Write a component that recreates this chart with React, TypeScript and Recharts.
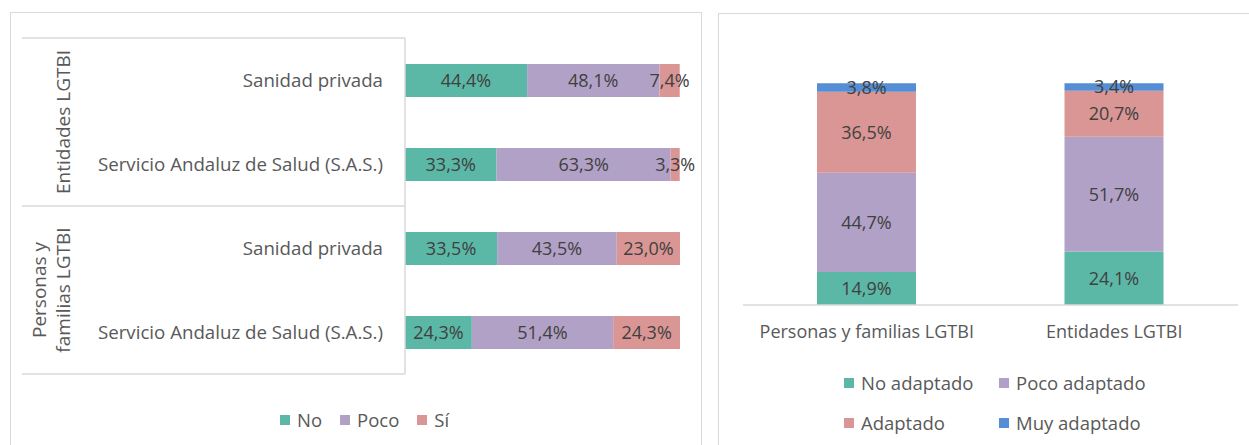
import React from "react";
import { BarChart, Bar, XAxis, YAxis, LabelList } from "recharts";

// ---------- Data ----------
const leftCategories = [
  "Sanidad privada",
  "Servicio Andaluz de Salud (S.A.S.)",
  "Sanidad privada",
  "Servicio Andaluz de Salud (S.A.S.)",
];
const leftGroups = [
  "Entidades LGTBI",
  "Entidades LGTBI",
  "Personas y familias LGTBI",
  "Personas y familias LGTBI",
];
const leftGroupLabelLines: Record<string, string[]> = {
  "Entidades LGTBI": ["Entidades LGTBI"],
  "Personas y familias LGTBI": ["Personas y", "familias LGTBI"],
};
const leftNo = [44.4, 33.3, 33.5, 24.3];
const leftPoco = [48.1, 63.3, 43.5, 51.4];
const leftSi = [7.4, 3.3, 23.0, 24.3];
const leftSeriesNames = ["No", "Poco", "Sí"];

const rightCategories = ["Personas y familias LGTBI", "Entidades LGTBI"];
const rightNoAdaptado = [14.9, 24.1];
const rightPocoAdaptado = [44.7, 51.7];
const rightAdaptado = [36.5, 20.7];
const rightMuyAdaptado = [3.8, 3.4];
const rightSeriesNames = ["No adaptado", "Poco adaptado", "Adaptado", "Muy adaptado"];

// ---------- Styles ----------
const TEAL = "#5BB8A6";
const PURPLE = "#B2A1C7";
const PINK = "#D99694";
const BLUE = "#558ED5";
const GRID = "#D9D9D9";
const AXIS_TEXT = "#595959";
const LABEL_TEXT = "#404040";
const FONT = "'Open Sans', 'Noto Sans', sans-serif";

const leftColors = [TEAL, PURPLE, PINK];
const rightColors = [TEAL, PURPLE, PINK, BLUE];

const fmt = (v: any) => `${Number(v).toFixed(1).replace(".", ",")}%`;

const leftData = leftCategories.map((c, i) => ({
  key: `${leftGroups[i]}|${c}`,
  name: c,
  group: leftGroups[i],
  s0: leftNo[i],
  s1: leftPoco[i],
  s2: leftSi[i],
}));

const rightData = rightCategories.map((c, i) => ({
  name: c,
  s0: rightNoAdaptado[i],
  s1: rightPocoAdaptado[i],
  s2: rightAdaptado[i],
  s3: rightMuyAdaptado[i],
}));

// Left chart layout
const L_W = 703;
const L_H = 445;
const L_MARGIN = { top: 38, right: 23, bottom: 71, left: 22 };
const L_YAXIS_W = 383;

// Right chart layout
const R_LEFT = 719;
const R_W = 530;
const R_H = 445;
const R_MARGIN = { top: 83, right: 11, bottom: 110, left: 24 };

function LeftGroupOverlay() {
  const plotTop = L_MARGIN.top;
  const plotBottom = L_H - L_MARGIN.bottom;
  const band = (plotBottom - plotTop) / leftCategories.length;
  const x0 = L_MARGIN.left;
  const x1 = L_MARGIN.left + L_YAXIS_W;
  const groups: { name: string; start: number; count: number }[] = [];
  leftGroups.forEach((g, i) => {
    const last = groups[groups.length - 1];
    if (last && last.name === g) last.count += 1;
    else groups.push({ name: g, start: i, count: 1 });
  });
  const lineGap = 24.5;
  const lastLineX = 63;
  return (
    <svg
      width={L_W}
      height={L_H}
      style={{ position: "absolute", left: 0, top: 0, pointerEvents: "none" }}
    >
      <line x1={x0} x2={x1} y1={plotTop} y2={plotTop} stroke={GRID} strokeWidth={1.5} />
      {groups.map((g) => {
        const yEnd = plotTop + (g.start + g.count) * band;
        const yMid = plotTop + (g.start + g.count / 2) * band;
        const lines = leftGroupLabelLines[g.name] || [g.name];
        return (
          <g key={g.name}>
            <line x1={x0} x2={x1} y1={yEnd} y2={yEnd} stroke={GRID} strokeWidth={1.5} />
            {lines.map((ln, k) => {
              const cx = lastLineX - (lines.length - 1 - k) * lineGap;
              return (
                <text
                  key={k}
                  x={cx}
                  y={yMid}
                  transform={`rotate(-90 ${cx} ${yMid})`}
                  textAnchor="middle"
                  dominantBaseline="central"
                  fill={AXIS_TEXT}
                  fontSize={19}
                  fontFamily={FONT}
                >
                  {ln}
                </text>
              );
            })}
          </g>
        );
      })}
    </svg>
  );
}

function LegendItem({ color, label }: { color: string; label: string }) {
  return (
    <div style={{ display: "flex", alignItems: "center", whiteSpace: "nowrap" }}>
      <div style={{ width: 10, height: 10, background: color, marginRight: 7 }} />
      <span style={{ color: AXIS_TEXT, fontSize: 18.5, fontFamily: FONT, lineHeight: "20px" }}>
        {label}
      </span>
    </div>
  );
}

export default function App() {
  return (
    <div
      style={{
        position: "fixed",
        left: 0,
        top: 0,
        width: 1249,
        height: 445,
        background: "#fff",
        overflow: "hidden",
        fontFamily: FONT,
      }}
    >
      {/* panel borders */}
      <div
        style={{
          position: "absolute",
          left: 10,
          top: 12,
          width: 692,
          height: 460,
          border: `1.5px solid ${GRID}`,
          boxSizing: "border-box",
        }}
      />
      <div
        style={{
          position: "absolute",
          left: 718,
          top: 13,
          width: 560,
          height: 460,
          border: `1.5px solid ${GRID}`,
          boxSizing: "border-box",
        }}
      />

      {/* Left chart */}
      <div style={{ position: "absolute", left: 0, top: 0, width: L_W, height: L_H }}>
        <BarChart
          width={L_W}
          height={L_H}
          data={leftData}
          layout="vertical"
          margin={L_MARGIN}
          barSize={33}
        >
          <XAxis type="number" domain={[0, 100]} hide />
          <YAxis
            type="category"
            dataKey="key"
            width={L_YAXIS_W}
            tickFormatter={(v: string) => String(v).split("|")[1]}
            tick={{ fill: AXIS_TEXT, fontSize: 18.7 }}
            tickLine={false}
            tickSize={6}
            tickMargin={16}
            axisLine={{ stroke: GRID, strokeWidth: 1.5 }}
          />
          {leftSeriesNames.map((n, i) => (
            <Bar
              key={n}
              dataKey={`s${i}`}
              name={n}
              stackId="a"
              fill={leftColors[i]}
              isAnimationActive={false}
            >
              <LabelList
                dataKey={`s${i}`}
                position="center"
                formatter={fmt}
                fill={LABEL_TEXT}
                fontSize={18}
              />
            </Bar>
          ))}
        </BarChart>
        <LeftGroupOverlay />
        <div
          style={{
            position: "absolute",
            left: 280,
            top: 410,
            display: "flex",
            gap: 18,
          }}
        >
          {leftSeriesNames.map((n, i) => (
            <LegendItem key={n} color={leftColors[i]} label={n} />
          ))}
        </div>
      </div>

      {/* Right chart */}
      <div style={{ position: "absolute", left: R_LEFT, top: 0, width: R_W, height: R_H }}>
        <BarChart width={R_W} height={R_H} data={rightData} margin={R_MARGIN} barSize={99}>
          <XAxis
            dataKey="name"
            tick={{ fill: AXIS_TEXT, fontSize: 18 }}
            tickLine={false}
            tickSize={6}
            tickMargin={14}
            axisLine={{ stroke: GRID, strokeWidth: 1.5 }}
          />
          <YAxis type="number" domain={[0, 100]} hide />
          {rightSeriesNames.map((n, i) => (
            <Bar
              key={n}
              dataKey={`s${i}`}
              name={n}
              stackId="a"
              fill={rightColors[i]}
              isAnimationActive={false}
            >
              <LabelList
                dataKey={`s${i}`}
                position="center"
                formatter={fmt}
                fill={LABEL_TEXT}
                fontSize={18}
              />
            </Bar>
          ))}
        </BarChart>
        <div
          style={{
            position: "absolute",
            left: 844 - R_LEFT,
            top: 373,
            display: "grid",
            gridTemplateColumns: "155px 155px",
            rowGap: 20,
          }}
        >
          {rightSeriesNames.map((n, i) => (
            <LegendItem key={n} color={rightColors[i]} label={n} />
          ))}
        </div>
      </div>
    </div>
  );
}
